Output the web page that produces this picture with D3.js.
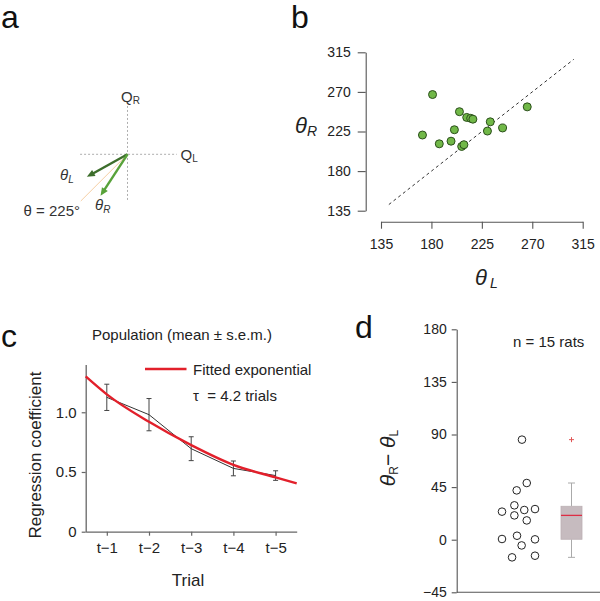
<!DOCTYPE html>
<html><head><meta charset="utf-8">
<script src="https://cdn.jsdelivr.net/npm/d3@7"></script>
<style>
body{margin:0;background:#fff;}
svg{display:block;font-family:"Liberation Sans",Arial,Helvetica,sans-serif;}
</style></head><body>
<svg id="chart" width="600" height="601"></svg>
<script>
// ---- Panel a: vector diagram ----
const vectorNames = ["L", "R"];
const vectorAngles = [209, 237];      // degrees
const vectorLengths = [1.0, 1.065];
const refAngle = 225;

// ---- Panel b: scatter θL vs θR ----
const thetaL = [181, 172, 187, 197.5, 200.5, 205, 211.5, 215, 217, 207, 209, 230, 232.5, 243.5, 265.5];
const thetaR = [267, 221, 211, 214, 227, 247.5, 241, 240, 239, 208, 210, 225.5, 236, 229, 253];
const ticksB = [135, 180, 225, 270, 315];
const diagRange = [142, 307];

// ---- Panel c: regression coefficients ----
const trialLabels = ["t\u22121", "t\u22122", "t\u22123", "t\u22124", "t\u22125"];
const trialIndex = [1, 2, 3, 4, 5];
const coefMean = [1.125, 0.98, 0.695, 0.53, 0.47];
const coefSem = [0.11, 0.135, 0.10, 0.062, 0.04];
const fitX = [0.5, 1, 2, 3, 4, 5, 5.5];
const fitY = [1.30, 1.15, 0.92, 0.725, 0.56, 0.455, 0.405];
const ticksCy = [0, 0.5, 1.0];
const ticksCyLabels = ["0", "0.5", "1.0"];

// ---- Panel d: θR − θL ----
const diffs = [85.6, 48.5, 42.2, 29.4, 24, 25.4, 26.2, 20.8, 16.5, 0.6, 3.4, 0.3, -4.9, -15.1, -13.7];
const jitter = [0.21, 0.5, -0.11, -0.25, -1, 0.35, 1, -0.25, 0.5, -1, -0.09, 1, 0.19, -0.39, 1];
const ticksD = [-45, 0, 45, 90, 135, 180];

const svg = d3.select("#chart");
const txt = "#222";

function panelLetter(s, x, y) {
  svg.append("text").attr("x", x).attr("y", y).attr("font-size", 32).attr("fill", "#111").text(s);
}
panelLetter("a", 1, 28);
panelLetter("b", 291, 28);
panelLetter("c", 1, 347);
panelLetter("d", 355, 338);

// ================= Panel a =================
(function(){
  const ox = 127.5, oy = 154.3;
  const r = d3.scaleLinear().domain([0, 1]).range([0, 46.5]);
  const g = svg.append("g").attr("transform", `translate(${ox},${oy})`);
  const pt = (ang, len) => {
    const a = ang * Math.PI / 180;
    return [r(len) * Math.cos(a), -r(len) * Math.sin(a)];
  };
  g.append("line").attr("x1", -r(1.02)).attr("x2", r(1.06)).attr("y1", 0).attr("y2", 0)
    .attr("stroke", "#999").attr("stroke-width", 0.8).attr("stroke-dasharray", "2,2");
  g.append("line").attr("y1", -r(1.04)).attr("y2", r(1.02)).attr("x1", 0).attr("x2", 0)
    .attr("stroke", "#999").attr("stroke-width", 0.8).attr("stroke-dasharray", "2,2");
  const rp = pt(refAngle, 1.42);
  g.append("line").attr("x1", 0).attr("y1", 0).attr("x2", rp[0]).attr("y2", rp[1])
    .attr("stroke", "#f6cfa4").attr("stroke-width", 1);
  const colors = ["#3d6e2c", "#58a23a"];
  vectorAngles.forEach((ang, i) => {
    const tip = pt(ang, vectorLengths[i]);
    const a = ang * Math.PI / 180;
    const ux = Math.cos(a), uy = -Math.sin(a);
    const hl = 8, hw = 3.5;
    const bx = tip[0] - ux * hl, by = tip[1] - uy * hl;
    g.append("line").attr("x1", 0).attr("y1", 0).attr("x2", bx + ux * 1).attr("y2", by + uy * 1)
      .attr("stroke", colors[i]).attr("stroke-width", 2.4);
    g.append("path")
      .attr("d", `M${tip[0]},${tip[1]}L${bx - uy * hw},${by + ux * hw}L${bx + uy * hw},${by - ux * hw}Z`)
      .attr("fill", colors[i]);
  });
  const q1 = svg.append("text").attr("x", 121).attr("y", 101.5).attr("font-size", 15).attr("fill", "#333");
  q1.append("tspan").text("Q");
  q1.append("tspan").attr("font-size", 10).attr("dy", 2).text("R");
  const q2 = svg.append("text").attr("x", 180.5).attr("y", 159.5).attr("font-size", 15).attr("fill", "#333");
  q2.append("tspan").text("Q");
  q2.append("tspan").attr("font-size", 10).attr("dy", 2).text("L");
  const tl = svg.append("text").attr("x", 60).attr("y", 179.5).attr("font-size", 15).attr("fill", "#333");
  tl.append("tspan").attr("font-style", "italic").text("\u03B8");
  tl.append("tspan").attr("font-size", 10).attr("font-style", "italic").attr("dy", 3).text(vectorNames[0]);
  const tr = svg.append("text").attr("x", 95).attr("y", 210).attr("font-size", 15).attr("fill", "#333");
  tr.append("tspan").attr("font-style", "italic").text("\u03B8");
  tr.append("tspan").attr("font-size", 10).attr("font-style", "italic").attr("dy", 3).text(vectorNames[1]);
  svg.append("text").attr("x", 80).attr("y", 215.5).attr("text-anchor", "end").attr("font-size", 15)
    .attr("fill", "#333").text("\u03B8 = " + refAngle + "\u00B0");
})();

// ================= Panel b =================
(function(){
  const x = d3.scaleLinear().domain([135, 315]).range([381, 582.7]);
  const y = d3.scaleLinear().domain([135, 315]).range([210.7, 52.3]);
  const ya = svg.append("g").attr("transform", "translate(365.7,0)")
    .call(d3.axisLeft(y).tickValues(ticksB).tickSize(8).tickSizeOuter(0).tickPadding(7));
  const xa = svg.append("g").attr("transform", "translate(0,221.7)")
    .call(d3.axisBottom(x).tickValues(ticksB).tickSize(7).tickSizeOuter(0).tickPadding(10));
  [ya, xa].forEach(a => {
    a.select(".domain").attr("stroke", "#555").attr("stroke-width", 1.1);
    a.selectAll(".tick line").attr("stroke", "#555").attr("stroke-width", 1.1);
    a.selectAll(".tick text").attr("font-size", 14).attr("fill", txt).attr("font-family", "Liberation Sans, Arial");
  });
  svg.append("line")
    .attr("x1", x(diagRange[0])).attr("y1", y(diagRange[0]))
    .attr("x2", x(diagRange[1])).attr("y2", y(diagRange[1]))
    .attr("stroke", "#333").attr("stroke-width", 1).attr("stroke-dasharray", "3,3");
  svg.append("g").selectAll("circle").data(thetaL).join("circle")
    .attr("cx", d => x(d)).attr("cy", (d, i) => y(thetaR[i])).attr("r", 4)
    .attr("fill", "#71b848").attr("stroke", "#2b4f1b").attr("stroke-width", 1);
  const ly = svg.append("text").attr("x", 295).attr("y", 133).attr("font-size", 22).attr("fill", txt);
  ly.append("tspan").attr("font-style", "italic").text("\u03B8");
  ly.append("tspan").attr("font-style", "italic").attr("font-size", 14).attr("dy", 3).text("R");
  const lx = svg.append("text").attr("x", 475).attr("y", 285).attr("font-size", 22).attr("fill", txt);
  lx.append("tspan").attr("font-style", "italic").text("\u03B8");
  lx.append("tspan").attr("font-style", "italic").attr("font-size", 14).attr("dx", 3).attr("dy", 3).text("L");
})();

// ================= Panel c =================
(function(){
  const x = d3.scaleLinear().domain([0.5, 5.5]).range([85.7, 296.7]);
  const y = d3.scaleLinear().domain([0, 1.4]).range([531.7, 364.5]);
  const ya = svg.append("g").attr("transform", "translate(85.7,0)")
    .call(d3.axisLeft(y).tickValues(ticksCy).tickFormat((d, i) => ticksCyLabels[i]).tickSize(4).tickSizeOuter(0).tickPadding(5));
  const xa = svg.append("g").attr("transform", "translate(0,531.7)")
    .call(d3.axisBottom(x).tickValues(trialIndex).tickFormat((d, i) => trialLabels[i]).tickSize(4).tickSizeOuter(0).tickPadding(7));
  [ya, xa].forEach(a => {
    a.select(".domain").attr("stroke", "#666").attr("stroke-width", 1.3);
    a.selectAll(".tick line").attr("stroke", "#666").attr("stroke-width", 1.2);
    a.selectAll(".tick text").attr("font-size", 15).attr("fill", txt).attr("font-family", "Liberation Sans, Arial");
  });
  const eb = svg.append("g").attr("stroke", "#444").attr("stroke-width", 1);
  trialIndex.forEach((t, i) => {
    const top = y(coefMean[i] + coefSem[i]), bot = y(coefMean[i] - coefSem[i]);
    eb.append("line").attr("x1", x(t)).attr("x2", x(t)).attr("y1", top).attr("y2", bot);
    eb.append("line").attr("x1", x(t) - 2.5).attr("x2", x(t) + 2.5).attr("y1", top).attr("y2", top);
    eb.append("line").attr("x1", x(t) - 2.5).attr("x2", x(t) + 2.5).attr("y1", bot).attr("y2", bot);
  });
  svg.append("path").datum(trialIndex)
    .attr("d", d3.line().x(d => x(d)).y((d, i) => y(coefMean[i])))
    .attr("fill", "none").attr("stroke", "#333").attr("stroke-width", 1);
  svg.append("path").datum(fitX)
    .attr("d", d3.line().x(d => x(d)).y((d, i) => y(fitY[i])).curve(d3.curveMonotoneX))
    .attr("fill", "none").attr("stroke", "#e2202b").attr("stroke-width", 2.4);
  svg.append("line").attr("x1", 145).attr("x2", 186.5).attr("y1", 369).attr("y2", 369)
    .attr("stroke", "#e2202b").attr("stroke-width", 2.4);
  svg.append("text").attr("x", 193).attr("y", 374.5).attr("font-size", 15).attr("fill", txt).text("Fitted exponential");
  svg.append("text").attr("x", 193).attr("y", 400.5).attr("font-size", 15).attr("fill", txt)
    .attr("xml:space", "preserve").text("\u03C4  = 4.2 trials");
  svg.append("text").attr("x", 182).attr("y", 340).attr("text-anchor", "middle").attr("font-size", 15)
    .attr("fill", txt).text("Population (mean \u00B1 s.e.m.)");
  svg.append("text").attr("x", 188).attr("y", 586).attr("text-anchor", "middle").attr("font-size", 17)
    .attr("fill", txt).text("Trial");
  svg.append("text").attr("transform", "translate(41,455) rotate(-90)").attr("text-anchor", "middle")
    .attr("font-size", 17).attr("fill", txt).text("Regression coefficient");
})();

// ================= Panel d =================
(function(){
  const y = d3.scaleLinear().domain([-45, 180]).range([592.3, 329.3]);
  const x = d3.scaleLinear().domain([1, 2]).range([518.5, 571.5]);
  const jx = d3.scaleLinear().domain([-1, 1]).range([-16.5, 16.5]);
  const ya = svg.append("g").attr("transform", "translate(456.7,0)")
    .call(d3.axisLeft(y).tickValues(ticksD).tickFormat(d => d < 0 ? "\u2212" + Math.abs(d) : d).tickSize(5).tickSizeOuter(0).tickPadding(5));
  ya.select(".domain").attr("stroke", "#555").attr("stroke-width", 1.1);
  ya.selectAll(".tick line").attr("stroke", "#555").attr("stroke-width", 1.1);
  ya.selectAll(".tick text").attr("font-size", 14).attr("fill", txt).attr("font-family", "Liberation Sans, Arial");
  svg.append("line").attr("x1", 456.7).attr("x2", 600).attr("y1", y(-45)).attr("y2", y(-45))
    .attr("stroke", "#555").attr("stroke-width", 1.1);

  svg.append("g").selectAll("circle").data(diffs).join("circle")
    .attr("cx", (d, i) => x(1) + jx(jitter[i])).attr("cy", d => y(d)).attr("r", 3.8)
    .attr("fill", "none").attr("stroke", "#222").attr("stroke-width", 1);

  const s = diffs.slice().sort((a, b) => a - b);
  const n = s.length;
  const pct = p => {
    const pos = p * n + 0.5;
    if (pos <= 1) return s[0];
    if (pos >= n) return s[n - 1];
    const lo = Math.floor(pos), f = pos - lo;
    return s[lo - 1] + f * (s[lo] - s[lo - 1]);
  };
  const q1 = pct(0.25), med = pct(0.5), q3 = pct(0.75), iqr = q3 - q1;
  const hiW = d3.max(s.filter(v => v <= q3 + 1.5 * iqr));
  const loW = d3.min(s.filter(v => v >= q1 - 1.5 * iqr));
  const outl = s.filter(v => v > q3 + 1.5 * iqr || v < q1 - 1.5 * iqr);
  const cx = x(2), bw = 21;
  const gb = svg.append("g");
  gb.append("line").attr("x1", cx).attr("x2", cx).attr("y1", y(hiW)).attr("y2", y(q3)).attr("stroke", "#aaa").attr("stroke-width", 1);
  gb.append("line").attr("x1", cx).attr("x2", cx).attr("y1", y(q1)).attr("y2", y(loW)).attr("stroke", "#aaa").attr("stroke-width", 1);
  gb.append("line").attr("x1", cx - 3.5).attr("x2", cx + 3.5).attr("y1", y(hiW)).attr("y2", y(hiW)).attr("stroke", "#aaa");
  gb.append("line").attr("x1", cx - 3.5).attr("x2", cx + 3.5).attr("y1", y(loW)).attr("y2", y(loW)).attr("stroke", "#aaa");
  gb.append("rect").attr("x", cx - bw / 2).attr("width", bw).attr("y", y(q3)).attr("height", y(q1) - y(q3))
    .attr("fill", "#c6bbbf").attr("stroke", "#bcb0b4").attr("stroke-width", 0.8);
  gb.append("line").attr("x1", cx - bw / 2).attr("x2", cx + bw / 2).attr("y1", y(med)).attr("y2", y(med))
    .attr("stroke", "#dd2e45").attr("stroke-width", 1.3);
  outl.forEach(v => {
    gb.append("path").attr("d", `M${cx - 2.5},${y(v)}H${cx + 2.5}M${cx},${y(v) - 2.5}V${y(v) + 2.5}`)
      .attr("stroke", "#e05555").attr("stroke-width", 1);
  });

  svg.append("text").attr("x", 513).attr("y", 347).attr("font-size", 15).attr("fill", txt).text("n = 15 rats");
  const lab = svg.append("text").attr("transform", "translate(395,458) rotate(-90)").attr("text-anchor", "middle")
    .attr("font-size", 21).attr("fill", txt);
  lab.append("tspan").attr("font-style", "italic").text("\u03B8");
  lab.append("tspan").attr("font-size", 12).attr("dy", 3).text("R");
  lab.append("tspan").attr("dy", -3).text("\u2212 ");
  lab.append("tspan").attr("font-style", "italic").text("\u03B8");
  lab.append("tspan").attr("font-size", 12).attr("dy", 3).text("L");
})();
</script>
</body></html>
